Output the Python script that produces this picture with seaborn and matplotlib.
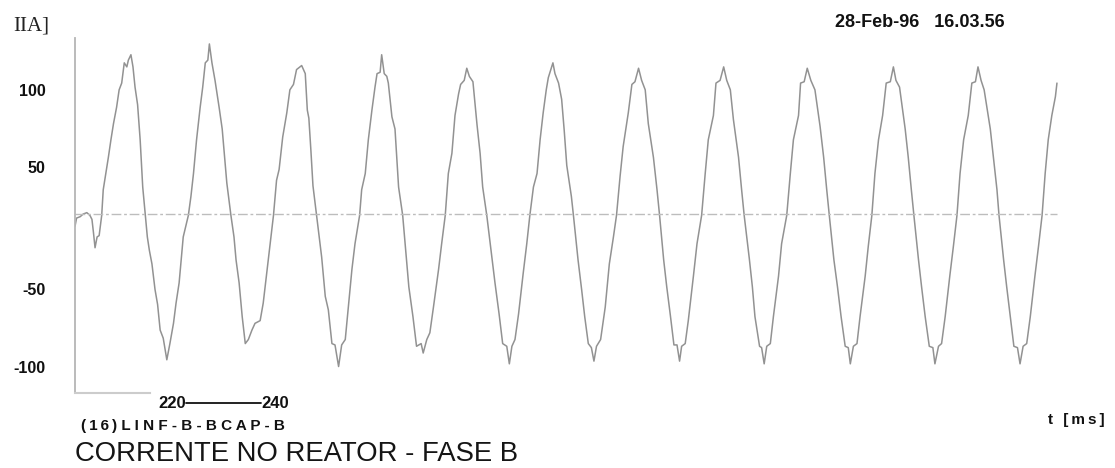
import matplotlib
matplotlib.use("Agg")
import matplotlib.pyplot as plt
import seaborn as sns
import pandas as pd

# Reactor current, phase B: sampled trace (time in ms, current in A)
time_ms = [
    201.0, 201.3, 202.0, 202.6, 203.3, 203.9, 204.3, 204.6, 204.9, 205.3, 205.7,
    206.2, 206.5, 207.0, 207.5, 208.0, 208.5, 209.1, 209.6, 210.1, 210.6, 211.1,
    211.4, 211.9, 212.3, 212.7, 213.2, 213.7, 214.2, 214.7, 215.1, 215.5, 216.0,
    216.6, 217.1, 217.6, 218.2, 218.9, 219.5, 220.2, 220.7, 221.3, 222.1, 223.1,
    223.6, 224.1, 224.7, 225.4, 225.9, 226.4, 226.9, 227.2, 227.7, 228.3, 229.1,
    229.7, 230.6, 231.4, 232.0, 232.4, 233.0, 233.6, 234.2, 234.8, 235.5, 236.1,
    237.1, 237.7, 238.9, 239.7, 240.3, 240.8, 241.5, 242.3, 242.9, 243.6, 244.2,
    245.2, 245.9, 246.3, 246.6, 247.0, 247.4, 248.1, 249.1, 249.8, 250.4, 251.1,
    251.7, 252.4, 253.0, 253.7, 254.3, 255.0, 255.6, 256.5,
    256.9, 257.6, 258.2, 258.9, 259.5, 259.9, 260.5, 260.8, 261.3, 261.8, 262.1,
    262.8, 263.4, 264.1, 264.9, 265.6, 266.1, 266.9, 267.6, 268.5, 268.9, 269.6,
    270.2, 270.9, 271.9, 272.5, 273.2,
    273.8, 274.5, 275.1, 275.8, 276.2, 276.9, 277.4, 277.9, 278.6, 279.4, 280.0,
    280.5, 281.3, 282.3, 282.9, 283.7, 284.4, 285.2, 285.7, 286.2, 286.8, 287.5,
    288.4, 289.1, 289.7,
    290.4, 291.1, 291.7, 292.3, 292.9, 293.3, 294.2, 294.6, 295.3, 295.9, 296.4,
    296.9, 297.8, 298.2, 299.1, 299.8, 300.4, 301.1, 301.7, 302.2, 302.7, 303.5,
    304.4, 305.2, 306.0, 306.6,
    307.3, 307.9, 308.9, 309.6, 310.2, 310.9, 311.5, 312.2, 312.8, 313.8, 314.5,
    315.0, 315.8, 316.4, 317.1, 317.8, 318.4, 318.9, 319.3, 320.0, 320.6, 321.6,
    322.3, 323.2,
    323.9, 324.5, 325.5, 326.0, 326.8, 327.5, 328.1, 328.8, 329.4, 330.4, 331.0,
    331.5, 332.5, 333.1, 333.6, 334.5, 334.9, 335.4, 335.9, 336.6, 337.2, 338.2,
    338.8, 339.8,
    340.5, 341.1, 342.1, 342.5, 343.2, 343.8, 344.5, 345.3, 346.3, 347.0, 347.6,
    348.1, 349.0, 349.7, 350.4, 351.2, 351.8, 352.2, 352.8, 353.5, 354.1, 355.1,
    355.7, 356.4,
    357.0, 357.7, 358.5, 359.2, 360.0, 360.6, 361.1, 361.8, 362.9, 363.5, 364.1,
    364.6, 365.5, 366.1, 366.8, 367.6, 368.3, 368.7, 369.4, 370.0, 370.7, 371.6,
    372.3, 373.0,
    373.6, 374.3, 375.2, 375.9, 376.6, 377.1, 377.7, 378.3, 379.5, 380.1, 380.8,
    381.2, 382.1, 382.7, 383.4, 384.1, 384.8, 385.3, 385.9, 386.6, 387.3, 388.2,
    388.9, 389.6,
    390.2, 390.8, 391.5, 392.2, 392.5,
]
current_a = [
    -9, -3, -2, 0, 1, -1, -4, -14, -25, -17, -16,
    -1, 18, 30, 42, 55, 67, 79, 92, 97, 112, 109,
    114, 118, 109, 94, 81, 55, 20, -1, -17, -27, -37,
    -56, -67, -86, -92, -108, -96, -81, -66, -51, -17, -1,
    13, 30, 55, 79, 94, 112, 114, 126, 112, 99, 79,
    63, 23, -1, -17, -34, -51, -76, -96, -93, -86, -81,
    -79, -66, -27, -1, 25, 33, 57, 75, 92, 96, 107,
    110, 104, 77, 71, 47, 21, -1, -32, -61, -71, -96,
    -97, -113, -97, -93, -69, -41, -22, -1,
    18, 30, 55, 77, 94, 104, 105, 118, 104, 102, 97,
    72, 63, 20, -1, -32, -54, -76, -98, -96, -103, -93,
    -88, -69, -41, -22, -1,
    30, 45, 73, 89, 96, 99, 108, 102, 98, 66, 45,
    20, -1, -32, -51, -74, -96, -98, -111, -98, -93, -74,
    -44, -22, -1,
    20, 30, 55, 75, 92, 101, 112, 104, 97, 85, 62,
    36, 13, -1, -34, -56, -76, -96, -99, -109, -98, -93,
    -69, -37, -17, -1,
    28, 50, 75, 96, 98, 108, 99, 92, 67, 42, 18,
    -1, -34, -54, -75, -97, -97, -109, -98, -96, -79, -46,
    -22, -1,
    30, 55, 73, 97, 99, 109, 99, 92, 70, 42, 18,
    -1, -33, -54, -76, -98, -99, -111, -98, -96, -76, -46,
    -22, -1,
    30, 55, 73, 97, 98, 108, 99, 92, 65, 42, 18,
    -1, -34, -54, -76, -98, -99, -111, -98, -96, -76, -46,
    -24, -1,
    30, 55, 73, 97, 98, 109, 99, 94, 63, 42, 18,
    -1, -34, -54, -76, -98, -99, -111, -98, -96, -76, -46,
    -24, -1,
    30, 55, 73, 97, 98, 109, 99, 92, 63, 42, 18,
    -1, -34, -54, -76, -98, -99, -111, -98, -96, -76, -46,
    -24, -1,
    30, 55, 73, 87, 97,
]

ytick_labels = ["100", "50", "-50", "-100"]
xtick_values = [220, 240]
xtick_labels = ["220", "240"]

unit_y = "IIA]"
unit_x = "t [ms]"
stamp = "28-Feb-96   16.03.56"
channel_id = "(16)"
channel_name = "LINF-B-BCAP-B"
title = "CORRENTE NO REATOR - FASE B"

# layout of the recorder sheet
T_START, T_END = 201.0, 393.1
Y_LOW, Y_HIGH = -132.6, 130.4
YTICK_POS = [91.9, 34.8, -55.6, -113.3]
AXIS_STUB_END = 215.6

THIN = "\u2009"


def tracked(s, gap=THIN):
    """Letter-spaced text, as printed by the recorder."""
    return gap.join(s)


sns.set_theme(style="white")
plt.rcParams["font.family"] = ["Liberation Sans", "DejaVu Sans"]

fig = plt.figure(figsize=(11.15, 4.68), dpi=100)
ax = fig.add_axes([0.0673, 0.1603, 0.8834, 0.7585])

df = pd.DataFrame({"t": time_ms, "i": current_a})
sns.lineplot(data=df, x="t", y="i", ax=ax, color="#929292", linewidth=1.1,
             sort=False, estimator=None)

# zero reference line
ax.hlines(0, T_START, time_ms[-1], color="#bdbdbd", linewidth=1.0,
          linestyles=(0, (7, 2, 2, 2)))

ax.set_xlim(T_START, T_END)
ax.set_ylim(Y_LOW, Y_HIGH)
ax.set_xlabel("")
ax.set_ylabel("")

for side in ("top", "right"):
    ax.spines[side].set_visible(False)
ax.spines["left"].set_color("#b5b5b5")
ax.spines["left"].set_linewidth(1.3)
ax.spines["bottom"].set_color("#cccccc")
ax.spines["bottom"].set_linewidth(1.5)
ax.spines["bottom"].set_bounds(T_START, AXIS_STUB_END)

ax.set_yticks(YTICK_POS, ytick_labels)
ax.tick_params(axis="y", length=0, pad=21, labelsize=11.5, labelcolor="#111111")
ax.set_xticks(xtick_values, xtick_labels)
ax.tick_params(axis="x", length=0, pad=2.5, labelsize=12, labelcolor="#111111")
for lab in ax.get_xticklabels() + ax.get_yticklabels():
    lab.set_fontweight("bold")

# time scale bar joining the two time marks
ax.plot([xtick_values[0] + 2.7, xtick_values[1] - 2.7], [-0.027, -0.027],
        transform=ax.get_xaxis_transform(), color="#111111", linewidth=1.3,
        clip_on=False)

W, H = 1115, 468
fig.text(13 / W, 1 - 31 / H, unit_y, family="Liberation Serif", fontsize=15,
         color="#222222", va="baseline")
fig.text(835 / W, 1 - 26.7 / H, stamp, fontsize=13, fontweight="bold",
         color="#111111", va="baseline")
fig.text(1048 / W, 1 - 424 / H, tracked(unit_x), fontsize=11,
         fontweight="bold", color="#111111", va="baseline")
fig.text(81 / W, 1 - 430 / H,
         tracked(channel_id) + " " + tracked(channel_name, " "),
         fontsize=11, fontweight="bold", color="#111111", va="baseline")
fig.text(75 / W, 1 - 461 / H, title, fontsize=19.8, color="#151515",
         va="baseline")

fig.savefig("out.png", dpi=100)
